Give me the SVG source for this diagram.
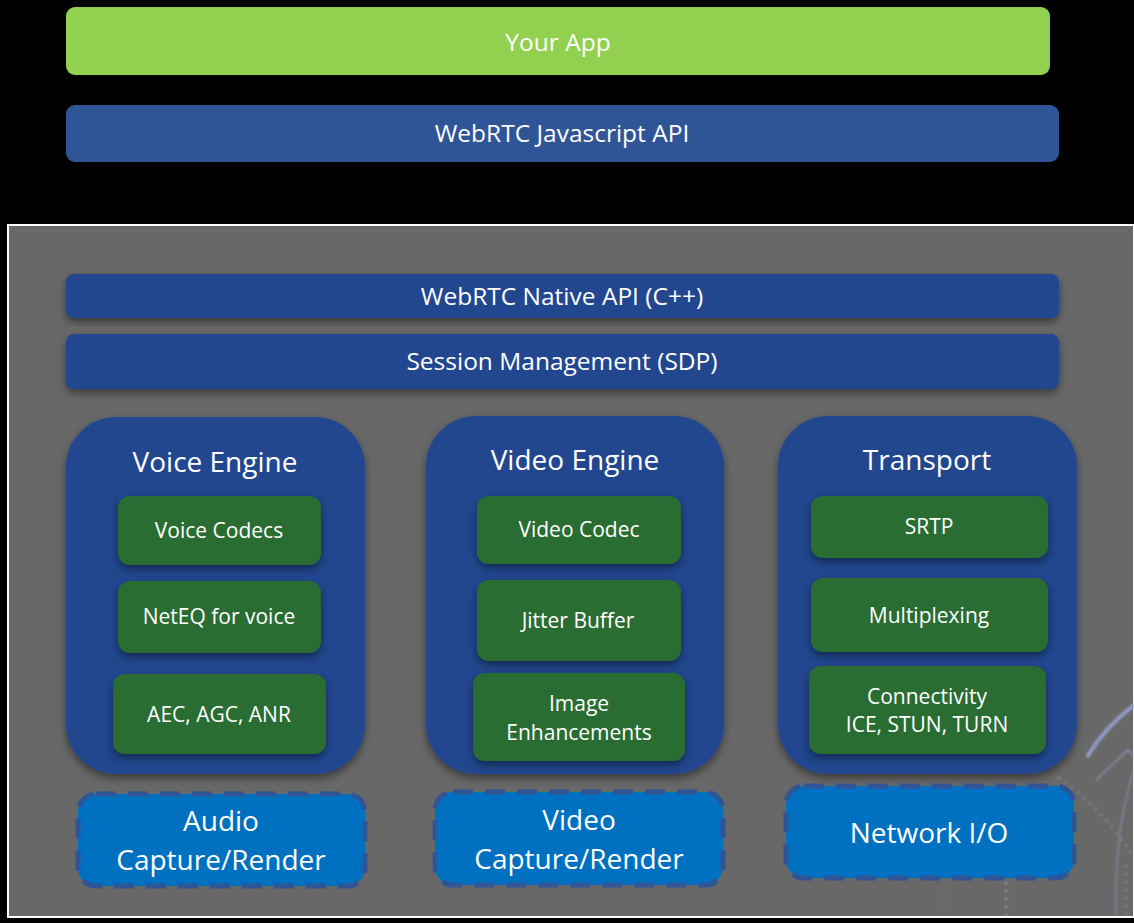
<svg xmlns="http://www.w3.org/2000/svg" width="1134" height="923" viewBox="0 0 1134 923">
  <defs>
    <filter id="shadow" x="-10%" y="-10%" width="120%" height="130%">
      <feDropShadow dx="0" dy="4" stdDeviation="4" flood-color="#000" flood-opacity="0.45"/>
    </filter>
    <filter id="soft" x="-20%" y="-20%" width="140%" height="140%">
      <feGaussianBlur stdDeviation="1"/>
    </filter>
    <style>
      .t { font-family: "Open Sans", "Liberation Sans", sans-serif; fill: #ffffff; text-anchor: middle; }
      .bar { font-size: 24.5px; }
      .head { font-size: 28px; }
      .item { font-size: 21px; }
      .io { font-size: 28px; }
      .engine { fill: #21468f; filter: url(#shadow); }
      .nat { fill: #21468f; filter: url(#shadow); }
      .comp { fill: #2b6d30; filter: url(#shadow); }
      .dev { fill: #0070c0; stroke: #2f5597; stroke-width: 5; stroke-dasharray: 20 12; }
      .deco { fill: none; stroke: #9aa6d8; }
    </style>
  </defs>

  <!-- page background -->
  <rect x="0" y="0" width="1134" height="923" fill="#000000"/>

  <!-- application layer -->
  <g id="your-app">
    <rect x="66" y="7" width="984" height="68" rx="9" fill="#92d050"/>
    <text class="t bar" x="558" y="51">Your App</text>
  </g>
  <g id="js-api">
    <rect x="66" y="105" width="993" height="57" rx="9" fill="#2f5597"/>
    <text class="t bar" x="562" y="142">WebRTC Javascript API</text>
  </g>

  <!-- native stack panel -->
  <g id="native-panel">
    <rect x="8" y="225" width="1126" height="692" fill="#686868" stroke="#ffffff" stroke-width="2"/>
    <!-- faint circuit decoration in the lower right corner -->
    <g filter="url(#soft)">
      <path class="deco" d="M1087 757 Q1105 727 1134 705" stroke-width="4" stroke="#8f9ff0" opacity="0.85"/>
      <g opacity="0.5">
        <path class="deco" d="M1058 778 Q1100 805 1134 858" stroke-width="3" stroke-dasharray="2 6" stroke="#c8c8c8"/>
        <path class="deco" d="M1096 780 L1128 750 L1134 756" stroke-width="2"/>
        <path class="deco" d="M1134 770 Q1114 830 1116 917" stroke-width="1.5" stroke="#7080b0"/>
        <path class="deco" d="M1126 865 L1126 917" stroke-width="3" stroke-dasharray="2 6" stroke="#c0c8e8"/>
        <line x1="1006" y1="882" x2="1006" y2="917" stroke="#d0d0d0" stroke-width="3" stroke-dasharray="2 6"/>
        <line x1="944" y1="880" x2="944" y2="917" stroke="#777777" stroke-width="1"/>
      </g>
    </g>
  </g>

  <g id="native-api">
    <rect class="nat" x="66" y="274" width="993" height="44" rx="8"/>
    <text class="t bar" x="562" y="305">WebRTC Native API (C++)</text>
  </g>
  <g id="session-management">
    <rect class="nat" x="66" y="334" width="993" height="55" rx="8"/>
    <text class="t bar" x="562" y="370">Session Management (SDP)</text>
  </g>

  <!-- voice engine -->
  <g id="voice-engine">
    <rect class="engine" x="66" y="417" width="299" height="357" rx="50"/>
    <text class="t head" x="215" y="472">Voice Engine</text>
  </g>
  <g id="voice-codecs">
    <rect class="comp" x="118" y="496" width="203" height="69" rx="12"/>
    <text class="t item" x="219" y="538">Voice Codecs</text>
  </g>
  <g id="neteq">
    <rect class="comp" x="118" y="581" width="203" height="72" rx="12"/>
    <text class="t item" x="219" y="624">NetEQ for voice</text>
  </g>
  <g id="aec-agc-anr">
    <rect class="comp" x="113" y="674" width="213" height="80" rx="12"/>
    <text class="t item" x="219" y="722">AEC, AGC, ANR</text>
  </g>

  <!-- video engine -->
  <g id="video-engine">
    <rect class="engine" x="426" y="416" width="298" height="358" rx="50"/>
    <text class="t head" x="575" y="470">Video Engine</text>
  </g>
  <g id="video-codec">
    <rect class="comp" x="477" y="496" width="204" height="68" rx="12"/>
    <text class="t item" x="579" y="537">Video Codec</text>
  </g>
  <g id="jitter-buffer">
    <rect class="comp" x="477" y="580" width="204" height="81" rx="12"/>
    <text class="t item" x="578" y="628">Jitter Buffer</text>
  </g>
  <g id="image-enhancements">
    <rect class="comp" x="473" y="673" width="212" height="88" rx="12"/>
    <text class="t item" x="579" y="711">Image</text>
    <text class="t item" x="579" y="740">Enhancements</text>
  </g>

  <!-- transport -->
  <g id="transport">
    <rect class="engine" x="778" y="416" width="299" height="358" rx="50"/>
    <text class="t head" x="927" y="470">Transport</text>
  </g>
  <g id="srtp">
    <rect class="comp" x="811" y="496" width="237" height="62" rx="12"/>
    <text class="t item" x="929" y="534">SRTP</text>
  </g>
  <g id="multiplexing">
    <rect class="comp" x="811" y="578" width="237" height="74" rx="12"/>
    <text class="t item" x="929" y="623">Multiplexing</text>
  </g>
  <g id="connectivity">
    <rect class="comp" x="809" y="666" width="237" height="88" rx="12"/>
    <text class="t item" x="927" y="704">Connectivity</text>
    <text class="t item" x="927" y="732">ICE, STUN, TURN</text>
  </g>

  <!-- device I/O -->
  <g id="audio-io">
    <rect class="dev" x="78" y="794" width="287" height="92" rx="18"/>
    <text class="t io" x="221" y="831">Audio</text>
    <text class="t io" x="221" y="870">Capture/Render</text>
  </g>
  <g id="video-io">
    <rect class="dev" x="435" y="792" width="288" height="93" rx="18"/>
    <text class="t io" x="579" y="830">Video</text>
    <text class="t io" x="579" y="869">Capture/Render</text>
  </g>
  <g id="network-io">
    <rect class="dev" x="786" y="786" width="288" height="92" rx="18"/>
    <text class="t io" x="929" y="843">Network I/O</text>
  </g>

  <!-- the layers are stacked without drawn connectors -->
  <g id="connectors"></g>
</svg>
